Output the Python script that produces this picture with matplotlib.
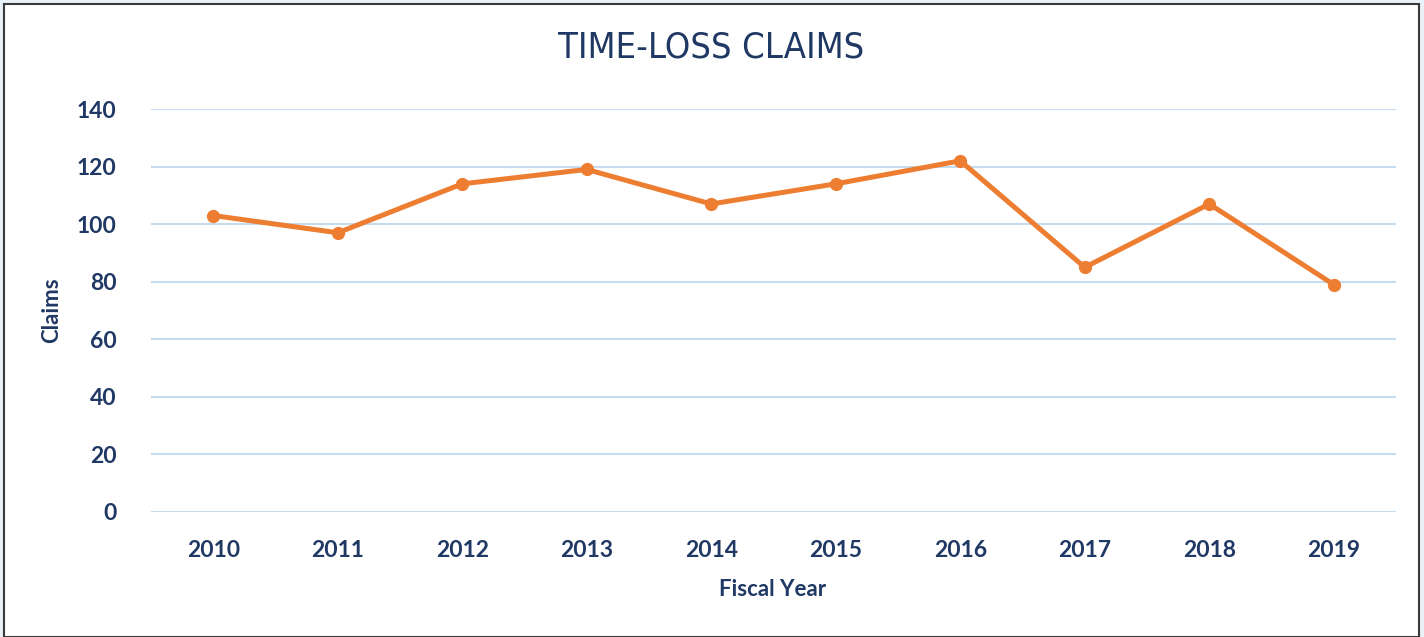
import matplotlib.pyplot as plt
from matplotlib.patches import Rectangle

years = ['2010', '2011', '2012', '2013', '2014', '2015', '2016', '2017', '2018', '2019']
claims = [103, 97, 114, 119, 107, 114, 122, 85, 107, 79]
y_ticks = [0, 20, 40, 60, 80, 100, 120, 140]

navy = '#203864'
orange = '#ED7D31'
grid_blue = '#C5DCF0'

fig = plt.figure(figsize=(14.24, 6.37), dpi=100)
fig.patch.set_facecolor('#E9F1F9')
# white chart area with dark frame
fig.patches.append(Rectangle((4 / 1424, 0), 1415 / 1424, 1 - 4 / 637,
                             transform=fig.transFigure, facecolor='white',
                             edgecolor='#3a3a3a', linewidth=1.5, zorder=-5))

ax = fig.add_axes([151 / 1424, 1 - 512 / 637, 1245 / 1424, 403 / 637])
ax.set_facecolor('none')
ax.set_zorder(2)

x = list(range(len(years)))
ax.plot(x, claims, color=orange, linewidth=3.6, marker='o', markersize=8.5,
        solid_capstyle='round', zorder=3)

ax.set_xlim(-0.5, len(years) - 0.5)
ax.set_ylim(0, 140)
ax.set_yticks(y_ticks)
ax.set_xticks(x)
ax.set_xticklabels(years)
ax.yaxis.grid(True, color=grid_blue, linewidth=1.5)
ax.set_axisbelow(True)
for s in ax.spines.values():
    s.set_visible(False)
ax.tick_params(length=0, labelsize=16.5, labelcolor=navy)
ax.tick_params(axis='y', pad=25)
ax.tick_params(axis='x', pad=20)
for lab in ax.get_xticklabels() + ax.get_yticklabels():
    lab.set_fontweight('bold')
    lab.set_family('Lato')

fig.text(711 / 1424, 1 - 48 / 637, 'TIME-LOSS CLAIMS', ha='center', va='center',
         fontsize=26, color=navy, family='DejaVu Sans', stretch='condensed',
         zorder=3)
fig.text(52 / 1424, 1 - 310 / 637, 'Claims', ha='center', va='center', rotation=90,
         fontsize=16, fontweight='bold', color=navy, family='Lato', zorder=3)
fig.text(773 / 1424, 1 - 590 / 637, 'Fiscal Year', ha='center', va='center',
         fontsize=16, fontweight='bold', color=navy, family='Lato', zorder=3)

fig.savefig('out.png', dpi=100, facecolor=fig.get_facecolor())
